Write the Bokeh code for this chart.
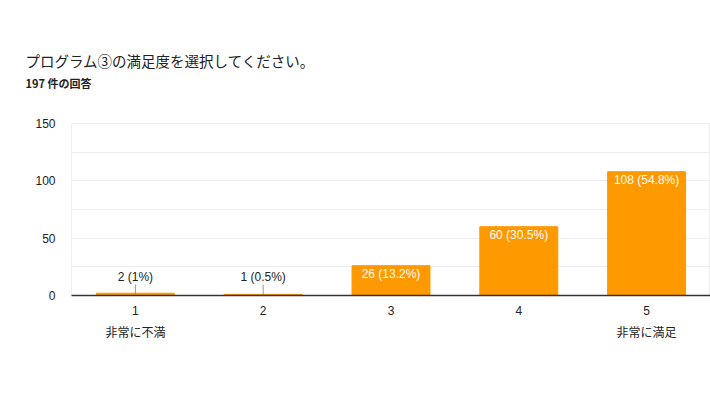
from bokeh.plotting import figure
from bokeh.models import ColumnDataSource, LabelSet, Title, CategoricalAxis, CustomJSTickFormatter
from bokeh.embed import file_html
from bokeh.resources import INLINE
from bokeh.core.properties import value

categories = ["1", "2", "3", "4", "5"]
counts = [2, 1, 26, 60, 108]
pct_labels = ["2 (1%)", "1 (0.5%)", "26 (13.2%)", "60 (30.5%)", "108 (54.8%)"]
end_labels = ["非常に不満", "", "", "", "非常に満足"]
title_text = "プログラム③の満足度を選択してください。"
subtitle_text = "197 件の回答"
y_ticks = [0, 50, 100, 150]
grid_ticks = [0, 25, 50, 75, 100, 125, 150]

W, H = 710, 390
p = figure(x_range=categories, y_range=(0, 150), width=W, height=H,
           output_backend="svg", toolbar_location=None,
           min_border_left=71, min_border_right=0, min_border_top=123,
           min_border_bottom=H - 295)
p.title.visible = False
p.outline_line_color = "#eeeeee"
p.background_fill_color = "white"
p.border_fill_color = "white"

src = ColumnDataSource(dict(x=categories, top=counts))
p.vbar(x="x", top="top", width=0.61, source=src, fill_color="#ff9900",
       line_color="#ff9900", line_width=1)

inside = [c >= 10 for c in counts]
ins = ColumnDataSource(dict(x=[c for c, f in zip(categories, inside) if f],
                            y=[c for c, f in zip(counts, inside) if f],
                            lab=[l for l, f in zip(pct_labels, inside) if f]))
out_x = [c for c, f in zip(categories, inside) if not f]
out_lab = [l for l, f in zip(pct_labels, inside) if not f]
outs = ColumnDataSource(dict(x=out_x, y0=[0] * len(out_x), y1=[9.5] * len(out_x), lab=out_lab))

p.add_layout(LabelSet(x="x", y="y", text="lab", source=ins, text_color="white",
                      text_font=value("Liberation Sans"), text_font_size="12px",
                      text_align="center", text_baseline="middle", y_offset=-8))
p.add_layout(LabelSet(x="x", y="y0", text="lab", source=outs,
                      text_color="#222222", text_font=value("Liberation Sans"),
                      text_font_size="12px", text_align="center",
                      text_baseline="middle", y_offset=19))
p.segment(x0="x", y0="y0", x1="x", y1="y1", source=outs, line_color="#999999", line_width=1)

p.xaxis.axis_line_color = "#333333"
p.xaxis.axis_line_width = 1.5
p.xaxis.major_tick_line_color = None
p.xaxis.minor_tick_line_color = None
p.xaxis.major_label_text_font = "Liberation Sans"
p.xaxis.major_label_text_font_size = "12px"
p.xaxis.major_label_text_color = "#222222"
p.xaxis.major_label_standoff = 4

end_map = {c: e for c, e in zip(categories, end_labels)}
ax2 = CategoricalAxis(axis_line_color=None, major_tick_line_color=None,
                      minor_tick_line_color=None,
                      formatter=CustomJSTickFormatter(args=dict(m=end_map),
                                                      code="return m[tick] || ''"),
                      major_label_text_font="Noto Sans CJK JP",
                      major_label_text_font_size="12px",
                      major_label_text_color="#222222",
                      major_label_standoff=-1)
p.add_layout(ax2, "below")

p.yaxis.ticker = y_ticks
p.yaxis.axis_line_color = None
p.yaxis.major_tick_line_color = None
p.yaxis.minor_tick_line_color = None
p.yaxis.major_label_text_font = "Liberation Sans"
p.yaxis.major_label_text_font_size = "12px"
p.yaxis.major_label_text_color = "#222222"
p.yaxis.major_label_standoff = 10

p.xgrid.grid_line_color = None
p.ygrid.ticker = grid_ticks
p.ygrid.grid_line_color = "#eeeeee"

# spacer between frame and subtitle
p.add_layout(Title(text=" ", standoff=28, text_font_size="1px"), "above")
p.add_layout(Title(text=subtitle_text, align="left", offset=-46, standoff=4,
                   text_font="Noto Sans CJK JP", text_font_size="11px",
                   text_color="#202124", text_font_style="bold"), "above")
p.add_layout(Title(text=title_text, align="left", offset=-46, standoff=0,
                   text_font="Noto Sans CJK JP", text_font_size="14.5px",
                   text_color="#202124", text_font_style="normal"), "above")

open("out.html", "w").write(file_html(p, INLINE))
